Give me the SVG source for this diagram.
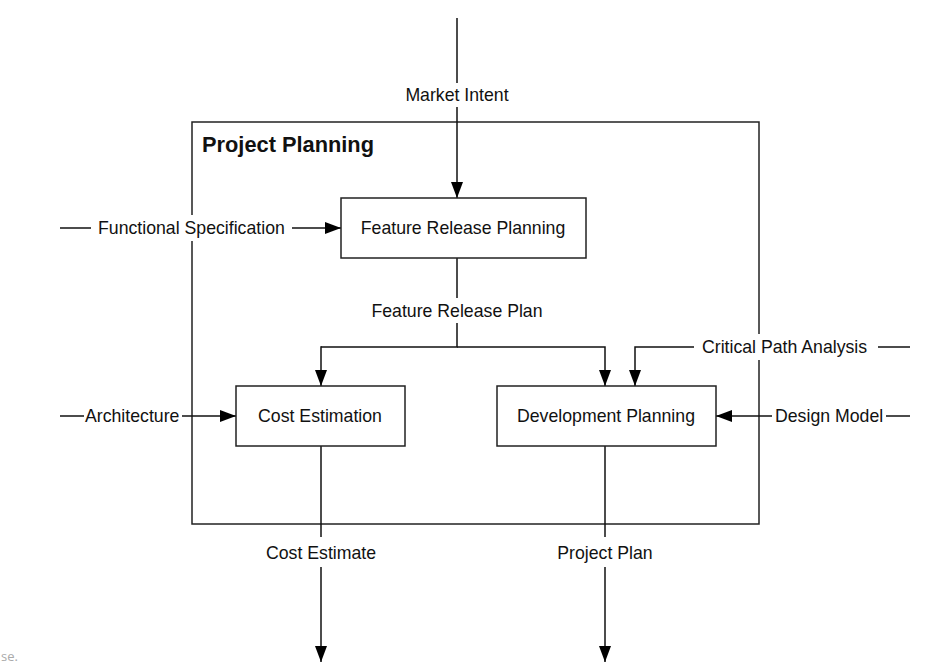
<svg xmlns="http://www.w3.org/2000/svg" width="951" height="665" viewBox="0 0 951 665">
<defs>
<marker id="arr" viewBox="0 0 16 12" refX="16" refY="6" markerWidth="16" markerHeight="12" markerUnits="userSpaceOnUse" orient="auto">
<path d="M0,0 L16,6 L0,12 Z" fill="#000"/>
</marker>
</defs>
<style>
.box{fill:#fff;stroke:#222;stroke-width:1.5}
.frame{fill:none;stroke:#222;stroke-width:1.5}
.t,.tl{font-family:"Liberation Sans",Arial,sans-serif;font-size:17.7px;fill:#111;dominant-baseline:central}
.t{text-anchor:middle}
.bg{fill:#fff;stroke:none}
.ln{fill:none;stroke:#111;stroke-width:1.5}
.a{marker-end:url(#arr)}
</style>
<rect width="951" height="665" fill="#fff"/>
<g id="frame">
<rect class="frame" x="192" y="122" width="567" height="402"/>
<text x="202" y="144" font-family="Liberation Sans,Arial,sans-serif" font-size="21.8" font-weight="bold" fill="#111" dominant-baseline="central">Project Planning</text>
</g>
<g id="connectors">
<line class="ln" x1="457" y1="18" x2="457" y2="83"/>
<line class="ln a" x1="457" y1="107" x2="457" y2="198"/>
<line class="ln" x1="60" y1="228" x2="91" y2="228"/>
<line class="ln a" x1="292" y1="228" x2="341" y2="228"/>
<line class="ln" x1="457" y1="258" x2="457" y2="298"/>
<polyline class="ln" points="457,323 457,347 321,347"/>
<line class="ln a" x1="321" y1="346.25" x2="321" y2="386"/>
<polyline class="ln a" points="457,347 605,347 605,386"/>
<polyline class="ln a" points="694,347 635,347 635,386"/>
<line class="ln" x1="878" y1="347" x2="910" y2="347"/>
<line class="ln" x1="60" y1="416" x2="84" y2="416"/>
<line class="ln a" x1="182" y1="416" x2="236" y2="416"/>
<line class="ln a" x1="772" y1="416" x2="716" y2="416"/>
<line class="ln" x1="886" y1="416" x2="910" y2="416"/>
<line class="ln" x1="321" y1="446" x2="321" y2="537"/>
<line class="ln a" x1="321" y1="567" x2="321" y2="662"/>
<line class="ln" x1="605" y1="446" x2="605" y2="537"/>
<line class="ln a" x1="605" y1="567" x2="605" y2="662"/>
<rect class="bg" x="96" y="215" width="192" height="26"/>
<rect class="bg" x="700" y="334" width="170" height="26"/>
<text class="t" x="457" y="95">Market Intent</text>
<text class="tl" x="98" y="228">Functional Specification</text>
<text class="t" x="457" y="311">Feature Release Plan</text>
<text class="tl" x="702" y="347">Critical Path Analysis</text>
<text class="tl" x="85" y="416">Architecture</text>
<text class="tl" x="775" y="416">Design Model</text>
<text class="t" x="321" y="553">Cost Estimate</text>
<text class="t" x="605" y="553">Project Plan</text>
</g>
<g id="feature-release-planning">
<rect class="box" x="341" y="198" width="245" height="60"/>
<text class="t" x="463" y="228">Feature Release Planning</text>
</g>
<g id="cost-estimation">
<rect class="box" x="236" y="386" width="169" height="60"/>
<text class="t" x="320" y="416">Cost Estimation</text>
</g>
<g id="development-planning">
<rect class="box" x="497" y="386" width="219" height="60"/>
<text class="t" x="606" y="416">Development Planning</text>
</g>
<text x="1" y="656" font-family="Open Sans,sans-serif" font-size="13" fill="#aaa" dominant-baseline="central">se.</text>
</svg>
